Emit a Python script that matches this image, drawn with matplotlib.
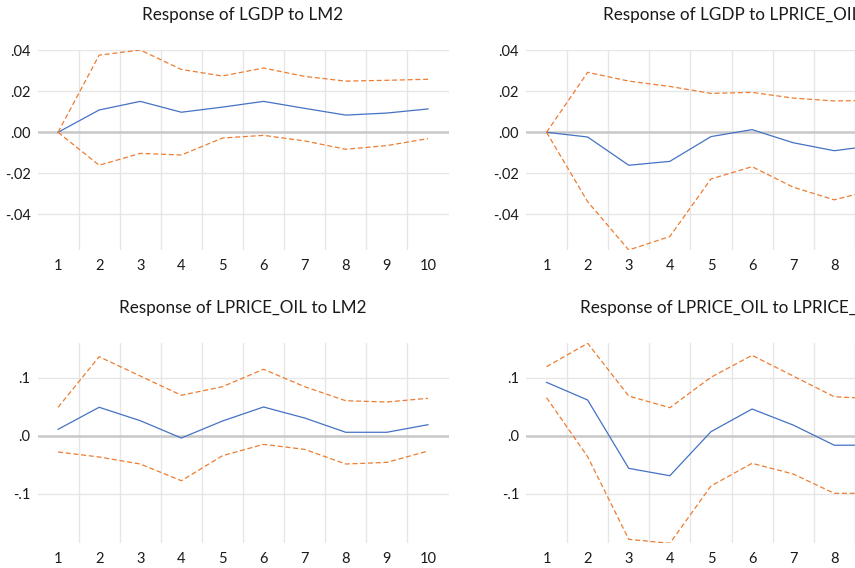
import numpy as np
import matplotlib
matplotlib.use("Agg")
import matplotlib.pyplot as plt
from matplotlib.ticker import FuncFormatter, FixedLocator

plt.rcParams['font.family'] = ['Lato', 'DejaVu Sans']

periods = np.arange(1, 11)

# LGDP <- LM2
gdp_m2 = [0.0, 0.0109, 0.0151, 0.0098, 0.0123, 0.0151, 0.0117, 0.0084, 0.0094, 0.0114]
gdp_m2_hi = [0.0, 0.0377, 0.0402, 0.0307, 0.0275, 0.0314, 0.0273, 0.0250, 0.0254, 0.0259]
gdp_m2_lo = [0.0, -0.0161, -0.0103, -0.0111, -0.0028, -0.0015, -0.0042, -0.0083, -0.0065, -0.0031]

# LGDP <- LPRICE_OIL
gdp_oil = [0.0, -0.0023, -0.0161, -0.0142, -0.0021, 0.0013, -0.0051, -0.0090, -0.0064, -0.0058]
gdp_oil_hi = [0.0, 0.0293, 0.0250, 0.0224, 0.0190, 0.0195, 0.0167, 0.0153, 0.0156, 0.0160]
gdp_oil_lo = [0.0, -0.0339, -0.0575, -0.0509, -0.0228, -0.0168, -0.0268, -0.0330, -0.0278, -0.0262]

# LPRICE_OIL <- LM2
oil_m2 = [0.0110, 0.0490, 0.0259, -0.0040, 0.0253, 0.0495, 0.0305, 0.0059, 0.0059, 0.0190]
oil_m2_hi = [0.0490, 0.1362, 0.1029, 0.0697, 0.0845, 0.1145, 0.0845, 0.0603, 0.0581, 0.0645]
oil_m2_lo = [-0.0281, -0.0367, -0.0488, -0.0776, -0.0345, -0.0149, -0.0236, -0.0488, -0.0460, -0.0264]

# LPRICE_OIL <- LPRICE_OIL
oil_oil = [0.0920, 0.0615, -0.0563, -0.0690, 0.0069, 0.0460, 0.0184, -0.0164, -0.0164, -0.0120]
oil_oil_hi = [0.1190, 0.1593, 0.0684, 0.0483, 0.1007, 0.1386, 0.1029, 0.0672, 0.0635, 0.0640]
oil_oil_lo = [0.0655, -0.0362, -0.1786, -0.1855, -0.0867, -0.0476, -0.0660, -0.0993, -0.0993, -0.0950]

titles = ["Response of LGDP to LM2", "Response of LGDP to LPRICE_OIL",
          "Response of LPRICE_OIL to LM2", "Response of LPRICE_OIL to LPRICE_OIL"]
top_ticks = [-0.04, -0.02, 0.0, 0.02, 0.04]
bottom_ticks = [-0.1, 0.0, 0.1]

BLUE = '#4472C4'
ORANGE = '#ED7D31'
GRID = '#E6E6E6'
ZERO = '#C8C8C8'

W, H = 855, 568
fig = plt.figure(figsize=(W / 100, H / 100), dpi=100)


def box(x0, y0, x1, y1):
    # pixel box (top-left origin) -> figure fraction rect
    return [x0 / W, 1 - y1 / H, (x1 - x0) / W, (y1 - y0) / H]


def strip_zero(digits):
    # ".04" / "-.02" style labels
    def f(v, pos):
        s = f"{abs(v):.{digits}f}".lstrip('0')
        return ('-' if v < -1e-12 else '') + s
    return FuncFormatter(f)


panels = [
    (box(37.5, 50, 448.5, 250), gdp_m2, gdp_m2_hi, gdp_m2_lo, top_ticks, 2),
    (box(526, 50, 937, 250), gdp_oil, gdp_oil_hi, gdp_oil_lo, top_ticks, 2),
    (box(37.5, 343.3, 448.5, 543.3), oil_m2, oil_m2_hi, oil_m2_lo, bottom_ticks, 1),
    (box(526, 343.3, 937, 543.3), oil_oil, oil_oil_hi, oil_oil_lo, bottom_ticks, 1),
]

# each row shares one y scale spanning the bands of both panels
row_lims = []
for r in (0, 2):
    vals = np.concatenate([np.r_[p[2], p[3]] for p in panels[r:r + 2]])
    row_lims += [(vals.min(), vals.max())] * 2

for (rect, mid, hi, lo, yt, dig), title, lims in zip(panels, titles, row_lims):
    ax = fig.add_axes(rect)
    ax.set_xlim(0.5, 10.5)
    ax.set_ylim(*lims)
    for s in ax.spines.values():
        s.set_visible(False)

    # grid: vertical lines between periods, horizontal at ticks
    for xv in np.arange(1.5, 10, 1.0):
        ax.axvline(xv, color=GRID, lw=1.0, zorder=0)
    for yv in yt:
        if yv != 0:
            ax.axhline(yv, color=GRID, lw=1.0, zorder=0)
    ax.axhline(0, color=ZERO, lw=1.8, zorder=1)

    ax.plot(periods, mid, color=BLUE, lw=0.9, zorder=3)
    ax.plot(periods, hi, color=ORANGE, lw=0.9, dashes=(4, 2.2), zorder=3)
    ax.plot(periods, lo, color=ORANGE, lw=0.9, dashes=(4, 2.2), zorder=3)

    ax.xaxis.set_major_locator(FixedLocator(periods))
    ax.yaxis.set_major_locator(FixedLocator(yt))
    ax.yaxis.set_major_formatter(strip_zero(dig))
    ax.tick_params(length=0, labelsize=10.5, colors='#1a1a1a')
    ax.tick_params(axis='x', pad=6.5)
    ax.tick_params(axis='y', pad=5)
    ax.set_facecolor('white')

    ax.text(0.5, 1.175, title, transform=ax.transAxes, ha='center', va='center',
            fontsize=12.3, color='#1a1a1a')

fig.savefig('out.png', dpi=100, facecolor='white')
